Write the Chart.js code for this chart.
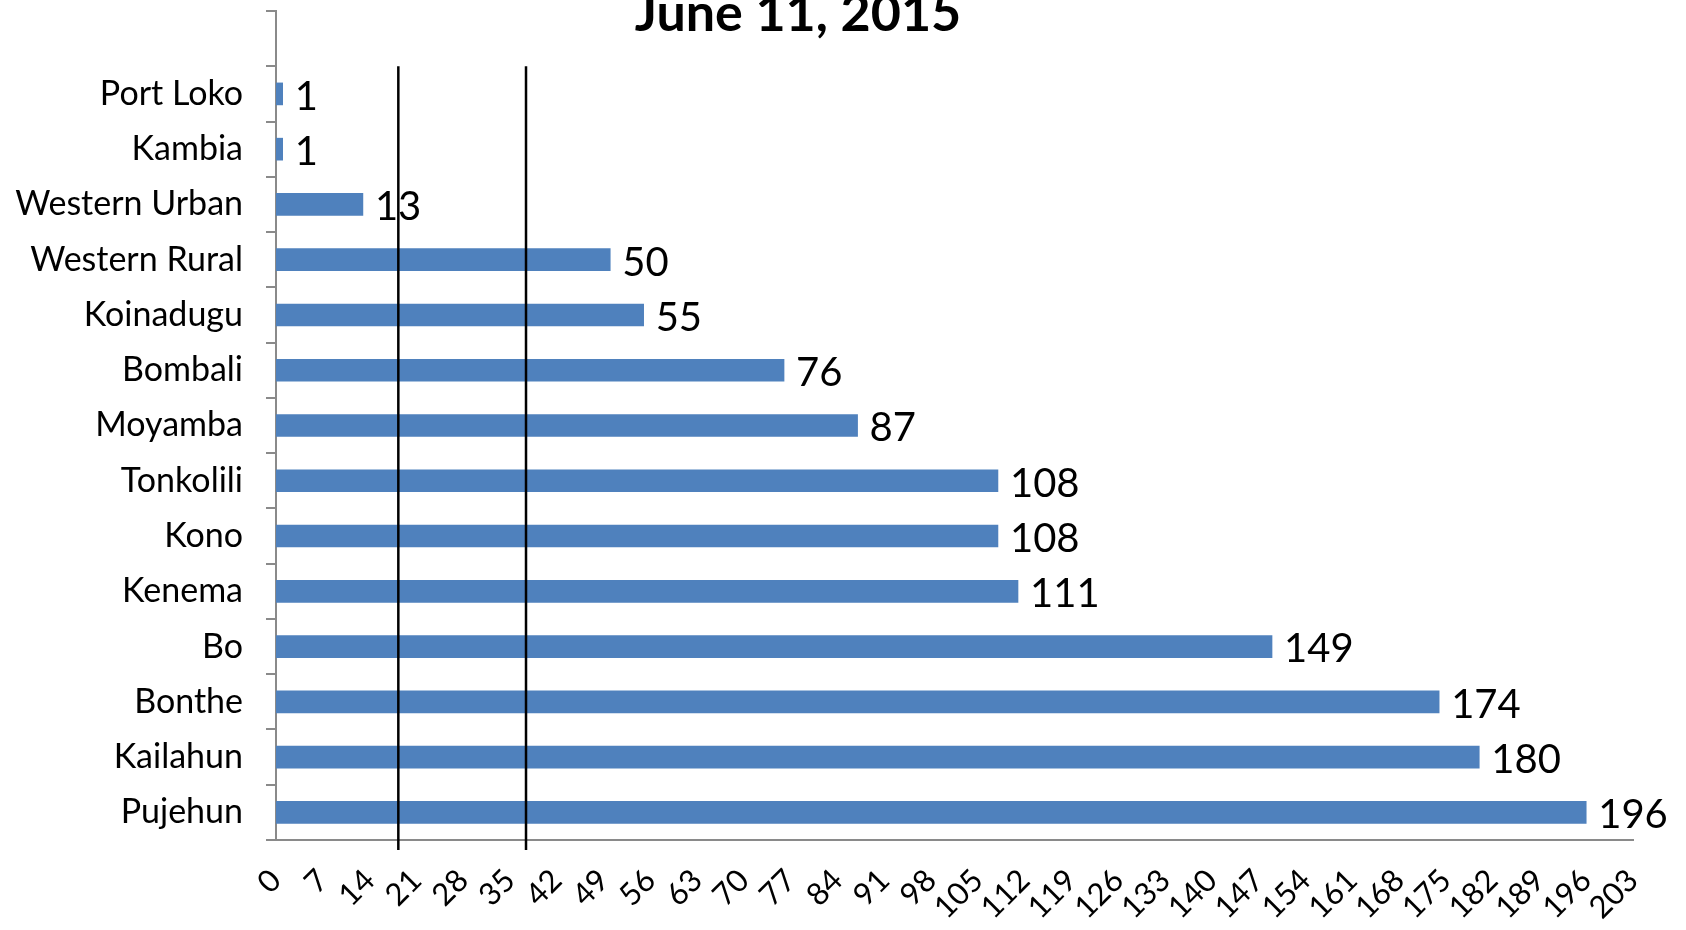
<!DOCTYPE html>
<html>
<head>
<meta charset="utf-8">
<script src="https://cdn.jsdelivr.net/npm/chart.js@4.4.1/dist/chart.umd.min.js"></script>
<style>
  html, body { margin: 0; padding: 0; background: #fff; }
  #wrap { width: 1686px; height: 930px; }
</style>
</head>
<body>
<div id="wrap"><canvas id="mycanvas" width="1686" height="930"></canvas></div>
<script>
// values
var chartTitle = 'June 11, 2015';
var districts = ['Port Loko', 'Kambia', 'Western Urban', 'Western Rural', 'Koinadugu', 'Bombali',
  'Moyamba', 'Tonkolili', 'Kono', 'Kenema', 'Bo', 'Bonthe', 'Kailahun', 'Pujehun'];
var days = [1, 1, 13, 50, 55, 76, 87, 108, 108, 111, 149, 174, 180, 196];
var axisMax = 203;
var axisStep = 7;
var markerDays = [18.3, 37.4];

var FONT = 'Lato, "Open Sans", sans-serif';
var AXIS_GREY = '#8a8a8a';

// the original keeps an empty slot above the first district
var labels = [''].concat(districts);
var values = [null].concat(days);

var valueLabels = {
  id: 'valueLabels',
  afterDatasetsDraw: function(chart) {
    var ctx = chart.ctx;
    var meta = chart.getDatasetMeta(0);
    ctx.save();
    ctx.font = '40px ' + FONT;
    ctx.fillStyle = '#000';
    ctx.textAlign = 'left';
    ctx.textBaseline = 'middle';
    meta.data.forEach(function(bar, i) {
      if (values[i] == null) return;
      ctx.fillText(String(values[i]), bar.x + 12, bar.y + 3);
    });
    ctx.restore();
  }
};

var markerLines = {
  id: 'markerLines',
  afterDatasetsDraw: function(chart) {
    var ctx = chart.ctx;
    var x = chart.scales.x, y = chart.scales.y;
    var band = (y.bottom - y.top) / labels.length;
    var top = y.getPixelForValue(1) - band / 2;
    ctx.save();
    ctx.strokeStyle = '#000';
    ctx.lineWidth = 2.5;
    markerDays.forEach(function(d) {
      var px = x.getPixelForValue(d);
      ctx.beginPath();
      ctx.moveTo(px, top);
      ctx.lineTo(px, y.bottom + 10);
      ctx.stroke();
    });
    ctx.restore();
  }
};

var titleText = {
  id: 'titleText',
  afterDraw: function(chart) {
    var ctx = chart.ctx;
    ctx.save();
    ctx.font = 'bold 52px ' + FONT;
    ctx.fillStyle = '#000';
    ctx.textAlign = 'center';
    ctx.textBaseline = 'alphabetic';
    ctx.fillText(chartTitle, 798, 31);
    ctx.restore();
  }
};

var ctx = document.getElementById('mycanvas');

var barGraph = new Chart(ctx, {
  type: 'bar',
  data: {
    labels: labels,
    datasets: [{
      label: 'days',
      data: values,
      backgroundColor: '#4f81bd',
      borderWidth: 0,
      barThickness: 22
    }]
  },
  options: {
    indexAxis: 'y',
    responsive: false,
    animation: false,
    layout: { padding: { top: 11, right: 53, left: 0, bottom: 0 } },
    plugins: {
      legend: { display: false },
      tooltip: { enabled: false },
      title: { display: false }
    },
    scales: {
      x: {
        min: 0,
        max: axisMax,
        afterFit: function(s) { s.height = 90; s.paddingTop = 0; },
        grid: { display: false, drawTicks: false },
        border: { display: true, color: AXIS_GREY, width: 2 },
        ticks: {
          stepSize: axisStep,
          autoSkip: false,
          minRotation: 45,
          maxRotation: 45,
          padding: 22,
          color: '#000',
          font: { family: FONT, size: 31 }
        }
      },
      y: {
        afterFit: function(s) { s.width = 276; s.paddingTop = 0; s.paddingBottom = 0; },
        grid: {
          display: true,
          drawOnChartArea: false,
          drawTicks: true,
          tickLength: 10,
          color: AXIS_GREY,
          lineWidth: 2,
          offset: true
        },
        border: { display: true, color: AXIS_GREY, width: 2 },
        ticks: {
          padding: 23,
          autoSkip: false,
          color: '#000',
          font: { family: FONT, size: 34 }
        }
      }
    }
  },
  plugins: [markerLines, valueLabels, titleText]
});
</script>
</body>
</html>
